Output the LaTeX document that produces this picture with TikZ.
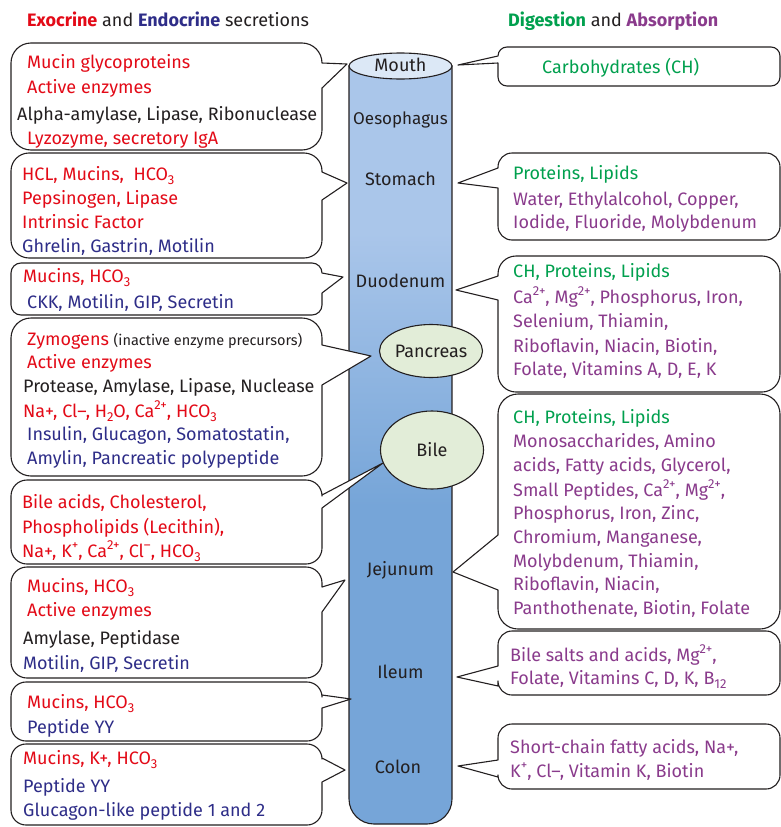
\documentclass[tikz,border=0pt]{standalone}
\usepackage{fontspec}
\setmainfont{Fira Sans}
\usetikzlibrary{shapes.geometric}

\definecolor{exo}{HTML}{E30A17}
\definecolor{endo}{HTML}{2E2D88}
\definecolor{dig}{HTML}{00A04E}
\definecolor{abso}{HTML}{8A3B8C}
\definecolor{ink}{HTML}{231F20}
\definecolor{tubeA}{HTML}{AAC6EA}
\definecolor{tubeB}{HTML}{76A5D8}
\definecolor{tubeTop}{HTML}{DCE8F6}
\definecolor{organfill}{HTML}{E2EDD8}

% gut tube: light blue above, deeper blue below
\pgfdeclareverticalshading{tube}{100bp}{color(0bp)=(tubeB); color(46bp)=(tubeB); color(64bp)=(tubeA); color(100bp)=(tubeA)}

% speech bubble, pointer on the right side
% #1 x1, #2 y1, #3 x2, #4 y2, #5 radius, #6/#7 pointer base, #8 tip
\newcommand\leftbubble[8]{%
  \draw[bubble] (#1+#5,#2) -- (#3-#5,#2) arc[start angle=-90,end angle=0,radius=#5]
    -- (#3,#6) -- (#8) -- (#3,#7) -- (#3,#4-#5) arc[start angle=0,end angle=90,radius=#5]
    -- (#1+#5,#4) arc[start angle=90,end angle=180,radius=#5]
    -- (#1,#2+#5) arc[start angle=180,end angle=270,radius=#5] -- cycle;}
% speech bubble, pointer on the left side
\newcommand\rightbubble[8]{%
  \draw[bubble] (#1+#5,#2) -- (#3-#5,#2) arc[start angle=-90,end angle=0,radius=#5]
    -- (#3,#4-#5) arc[start angle=0,end angle=90,radius=#5]
    -- (#1+#5,#4) arc[start angle=90,end angle=180,radius=#5]
    -- (#1,#7) -- (#8) -- (#1,#6)
    -- (#1,#2+#5) arc[start angle=180,end angle=270,radius=#5] -- cycle;}

\newcommand\bodyfont{\fontsize{18}{21}\selectfont}
% chemical indices
\newcommand\subx[1]{\raisebox{-0.26em}{\fontsize{13}{15}\selectfont #1}}
\newcommand\supx[1]{\raisebox{0.42em}{\fontsize{13}{15}\selectfont #1}}

\tikzset{
  bubble/.style={draw=ink, line width=1.1pt, fill=white, line join=round},
  txt/.style={anchor=base west, inner sep=0pt, font=\bodyfont},
  organname/.style={anchor=base, inner sep=0pt, text=ink, font=\bodyfont},
  gland/.style={ellipse, draw=ink, line width=1.1pt, fill=organfill, inner sep=0pt,
    text=ink, font=\bodyfont},
}

\begin{document}
\begin{tikzpicture}[x=1pt,y=-1pt]
\useasboundingbox (0,0) rectangle (781,827);
\clip (0,0) rectangle (781,827);

% headings
\node[txt, text=ink] (hl) at (27,26) {\textbf{\textcolor{exo}{Exocrine}} and \textbf{\textcolor{endo}{Endocrine}} secretions};
\node[txt, text=ink] (hr) at (508,26) {\textbf{\textcolor{dig}{Digestion}} and \textbf{\textcolor{abso}{Absorption}}};

% gut tube
\path[shading=tube, draw=ink, line width=1.1pt]
  (349,66) -- (349,799) arc[start angle=180,end angle=90,radius=25]
  -- (427,824) arc[start angle=90,end angle=0,radius=25] -- (452,66) -- cycle;
\draw[fill=tubeTop, draw=ink, line width=1.1pt] (400.5,66) ellipse[x radius=51.5, y radius=13];

\node[organname] (mouth) at (400.5,71) {Mouth};
\node[organname, font=\fontsize{17}{20}\selectfont] (oeso) at (400.5,124) {Oesophagus};
\node[organname] (stomach) at (400.5,185) {Stomach};
\node[organname] (duod) at (400.5,287) {Duodenum};
\node[organname] (jejunum) at (400.5,575) {Jejunum};
\node[organname] (ileum) at (400.5,678) {Ileum};
\node[organname] (colon) at (398,773) {Colon};

\node[gland, minimum width=103, minimum height=53] (pancreas) at (431,351) {Pancreas};
\node[gland, minimum width=103, minimum height=78] (bile) at (432,450) {Bile};

% pointer tips
\coordinate (tL1) at (347,64);
\coordinate (tL2) at (347,183);
\coordinate (tL3) at (343,277);
\coordinate (tL4) at (371,356);
\coordinate (tL5) at (383,463);
\coordinate (tL6) at (345,580);
\coordinate (tL7) at (351,699);
\coordinate (tL8) at (345,770);
\coordinate (tR1) at (458,65);
\coordinate (tR2) at (458,183);
\coordinate (tR3) at (456,290);
\coordinate (tR4) at (453,572);
\coordinate (tR5) at (457,677);
\coordinate (tR6) at (458,766);

% secretion bubbles
\leftbubble{11}{43}{322}{150}{20}{63}{88}{tL1}
\leftbubble{11}{153}{322}{258}{18}{172}{200}{tL2}
\leftbubble{11}{263}{322}{315}{10}{273}{293}{tL3}
\leftbubble{11}{318}{322}{476}{20}{345}{385}{tL4}
\leftbubble{11}{480}{322}{564}{16}{495}{508}{tL5}
\leftbubble{11}{567}{322}{678}{16}{587}{612}{tL6}
\leftbubble{11}{682}{322}{741}{15}{695}{708}{tL7}
\leftbubble{11}{744}{322}{825}{15}{758}{782}{tL8}

% absorption bubbles
\rightbubble{498}{47}{780}{86}{9}{56}{63}{tR1}
\rightbubble{498}{153}{780}{240}{14}{168}{188}{tR2}
\rightbubble{498}{256}{780}{392}{18}{276}{300}{tR3}
\rightbubble{498}{394}{780}{629}{20}{535}{590}{tR4}
\rightbubble{498}{631}{780}{695}{14}{666}{686}{tR5}
\rightbubble{498}{724}{780}{789}{14}{760}{777}{tR6}

% mouth
\node[txt, text=exo] (m1) at (27,68) {Mucin glycoproteins};
\node[txt, text=exo] (m2) at (27,93) {Active enzymes};
\node[txt, text=ink] (m3) at (17,120) {Alpha-amylase, Lipase, Ribonuclease};
\node[txt, text=exo] (m4) at (27,144) {Lyzozyme, secretory IgA};
% stomach
\node[txt, text=exo] (s1) at (22,180) {HCL, Mucins,\ \ HCO\subx{3}};
\node[txt, text=exo] (s2) at (22,204) {Pepsinogen, Lipase};
\node[txt, text=exo] (s3) at (22,228) {Intrinsic Factor};
\node[txt, text=endo] (s4) at (22,252) {Ghrelin, Gastrin, Motilin};
% duodenum
\node[txt, text=exo] (d1) at (23,282) {Mucins, HCO\subx{3}};
\node[txt, text=endo] (d2) at (27,308) {CKK, Motilin, GIP, Secretin};
% pancreas
\node[txt, text=exo] (p1) at (27,345) {Zymogens \textcolor{ink}{\fontsize{14.5}{17}\selectfont(inactive enzyme precursors)}};
\node[txt, text=exo] (p2) at (27,368) {Active enzymes};
\node[txt, text=ink] (p3) at (23,392) {Protease, Amylase, Lipase, Nuclease};
\node[txt, text=exo] (p4) at (23,417) {Na+, Cl–, H\subx{2}O, Ca\supx{2+}, HCO\subx{3}};
\node[txt, text=endo] (p5) at (27,440) {Insulin, Glucagon, Somatostatin,};
\node[txt, text=endo] (p6) at (27,464) {Amylin, Pancreatic polypeptide};
% bile
\node[txt, text=exo] (b1) at (22,508) {Bile acids, Cholesterol,};
\node[txt, text=exo] (b2) at (22,533) {Phospholipids (Lecithin),};
\node[txt, text=exo] (b3) at (22,557) {Na+, K\supx{+}, Ca\supx{2+}, Cl\supx{–}, HCO\subx{3}};
% jejunum
\node[txt, text=exo] (j1) at (27,592) {Mucins, HCO\subx{3}};
\node[txt, text=exo] (j2) at (27,616) {Active enzymes};
\node[txt, text=ink] (j3) at (23,644) {Amylase, Peptidase};
\node[txt, text=endo] (j4) at (23,669) {Motilin, GIP, Secretin};
% ileum
\node[txt, text=exo] (i1) at (27,708) {Mucins, HCO\subx{3}};
\node[txt, text=endo] (i2) at (27,733) {Peptide YY};
% colon
\node[txt, text=exo] (c1) at (23,764) {Mucins, K+, HCO\subx{3}};
\node[txt, text=endo] (c2) at (23,792) {Peptide YY};
\node[txt, text=endo] (c3) at (23,816) {Glucagon-like peptide 1 and 2};

% absorption texts
\node[txt, text=dig] (r11) at (542,73) {Carbohydrates (CH)};

\node[txt, text=dig] (r21) at (513,179) {Proteins, Lipids};
\node[txt, text=abso] (r22) at (513,205) {Water, Ethylalcohol, Copper,};
\node[txt, text=abso] (r23) at (513,228) {Iodide, Fluoride, Molybdenum};

\node[txt, text=dig] (r31) at (513,277) {CH, Proteins, Lipids};
\node[txt, text=abso] (r32) at (513,303) {Ca\supx{2+}, Mg\supx{2+}, Phosphorus, Iron,};
\node[txt, text=abso] (r33) at (513,327) {Selenium, Thiamin,};
\node[txt, text=abso] (r34) at (513,352) {Riboflavin, Niacin, Biotin,};
\node[txt, text=abso] (r35) at (513,375) {Folate, Vitamins A, D, E, K};

\node[txt, text=dig] (r41) at (513,423) {CH, Proteins, Lipids};
\node[txt, text=abso] (r42) at (513,447) {Monosaccharides, Amino};
\node[txt, text=abso] (r43) at (513,471) {acids, Fatty acids, Glycerol,};
\node[txt, text=abso] (r44) at (513,496) {Small Peptides, Ca\supx{2+}, Mg\supx{2+},};
\node[txt, text=abso] (r45) at (513,519) {Phosphorus, Iron, Zinc,};
\node[txt, text=abso] (r46) at (513,543) {Chromium, Manganese,};
\node[txt, text=abso] (r47) at (513,567) {Molybdenum, Thiamin,};
\node[txt, text=abso] (r48) at (513,590) {Riboflavin, Niacin,};
\node[txt, text=abso] (r49) at (513,614) {Panthothenate, Biotin, Folate};

\node[txt, text=abso] (r51) at (510,661) {Bile salts and acids, Mg\supx{2+},};
\node[txt, text=abso] (r52) at (510,684) {Folate, Vitamins C, D, K, B\subx{12}};

\node[txt, text=abso] (r61) at (510,753) {Short-chain fatty acids, Na+,};
\node[txt, text=abso] (r62) at (510,777) {K\supx{+}, Cl–, Vitamin K, Biotin};
\end{tikzpicture}
\end{document}
